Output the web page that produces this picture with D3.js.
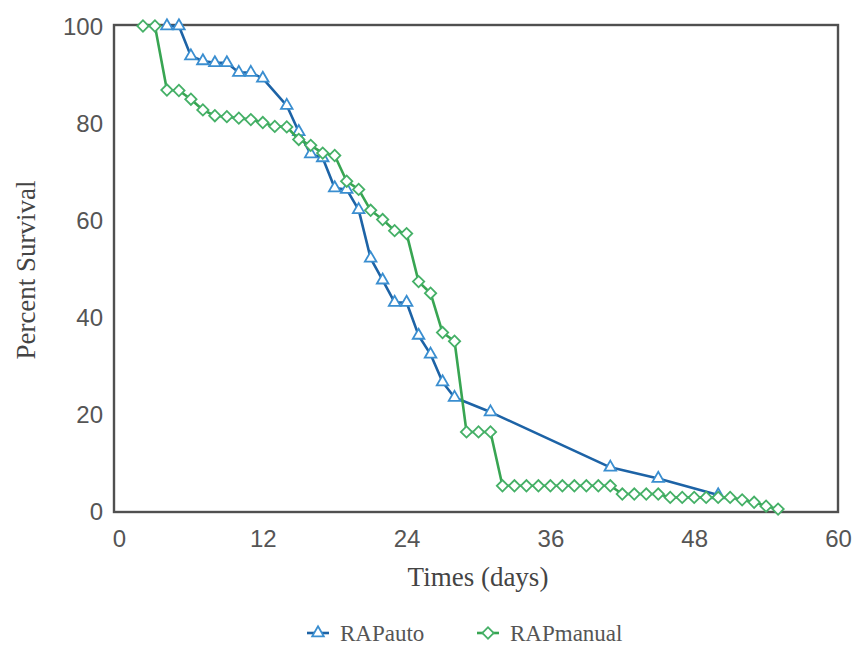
<!DOCTYPE html>
<html>
<head>
<meta charset="utf-8">
<script src="https://cdn.jsdelivr.net/npm/d3@7"></script>
<style>
  html, body { margin: 0; padding: 0; background: #ffffff; }
  svg { display: block; }
</style>
</head>
<body>
<svg id="chart" width="853" height="648"></svg>
<script>
// Kaplan–Meier style survival curves for the two RAP groups
const autoDays = [4, 5, 6, 7, 8, 9, 10, 11, 12, 14, 15, 16, 17, 18, 19, 20, 21, 22, 23, 24, 25, 26, 27, 28, 31, 41, 45, 50];
const autoSurvival = [100, 100, 93.8, 92.8, 92.4, 92.4, 90.4, 90.4, 89.2, 83.6, 78.2, 73.6, 72.8, 66.6, 66.3, 62.1, 52.1, 47.6, 43.0, 43.0, 36.2, 32.3, 26.6, 23.4, 20.4, 9.0, 6.7, 3.3];

const manualDays = [2, 3, 4, 5, 6, 7, 8, 9, 10, 11, 12, 13, 14, 15, 16, 17, 18, 19, 20, 21, 22, 23, 24, 25, 26, 27, 28, 29, 30, 31,
  32, 33, 34, 35, 36, 37, 38, 39, 40, 41, 42, 43, 44, 45, 46, 47, 48, 49, 50, 51, 52, 53, 54, 55];
const manualSurvival = [100, 100, 86.8, 86.7, 84.9, 82.7, 81.5, 81.3, 81.0, 80.7, 80.1, 79.3, 79.2, 76.6, 75.4, 73.8, 73.3, 68.0, 66.3, 62.0,
  60.1, 57.8, 57.2, 47.3, 44.9, 36.8, 35.0, 16.3, 16.3, 16.3,
  5.2, 5.2, 5.2, 5.2, 5.2, 5.2, 5.2, 5.2, 5.2, 5.2, 3.5, 3.5, 3.5, 3.5, 2.8, 2.8, 2.8, 2.8, 2.8, 2.8, 2.3, 1.8, 1.0, 0.4];

const seriesNames = ["RAPauto", "RAPmanual"];
const xTicks = [0, 12, 24, 36, 48, 60];
const yTicks = [0, 20, 40, 60, 80, 100];

const svg = d3.select("#chart");

const frame = { left: 114, right: 838, top: 25, bottom: 512 };
const x = d3.scaleLinear().domain([0, 60]).range([119, 838]);
const y = d3.scaleLinear().domain([0, 100]).range([511, 26]);

// square diamonds are drawn as a square symbol turned by 45 degrees
const styles = {
  RAPauto:   { line: "#1d63a6", marker: "#3a8ed0", shape: d3.symbolTriangle, size: 58, rot: 0 },
  RAPmanual: { line: "#38a552", marker: "#45b067", shape: d3.symbolSquare,   size: 64, rot: 45 }
};

// plot frame
svg.append("rect")
  .attr("x", frame.left).attr("y", frame.top)
  .attr("width", frame.right - frame.left).attr("height", frame.bottom - frame.top)
  .attr("fill", "none").attr("stroke", "#505050").attr("stroke-width", 2.4);

// axes (labels only, no tick marks)
const xAxis = d3.axisBottom(x).tickValues(xTicks).tickSize(0).tickPadding(0);
const gx = svg.append("g").attr("transform", `translate(0,${frame.bottom})`).call(xAxis);
gx.select(".domain").remove();
gx.selectAll("text")
  .attr("y", 35).attr("dy", null)
  .attr("font-family", "Liberation Sans, Arial, sans-serif")
  .attr("font-size", 24).attr("fill", "#555");

const yAxis = d3.axisLeft(y).tickValues(yTicks).tickSize(0).tickPadding(0);
const gy = svg.append("g").attr("transform", `translate(${frame.left},0)`).call(yAxis);
gy.select(".domain").remove();
gy.selectAll("text")
  .attr("x", -11).attr("dy", "0.36em")
  .attr("font-family", "Liberation Sans, Arial, sans-serif")
  .attr("font-size", 24).attr("fill", "#555");

// axis titles
svg.append("text")
  .attr("transform", "translate(35,270) rotate(-90)")
  .attr("text-anchor", "middle")
  .attr("font-family", "Liberation Serif, Times New Roman, serif")
  .attr("font-size", 27).attr("fill", "#444")
  .text("Percent Survival");

svg.append("text")
  .attr("x", 478).attr("y", 586)
  .attr("text-anchor", "middle")
  .attr("font-family", "Liberation Serif, Times New Roman, serif")
  .attr("font-size", 27).attr("fill", "#444")
  .text("Times (days)");

// series
const series = [
  { name: seriesNames[0], pts: autoDays.map((d, i) => [d, autoSurvival[i]]) },
  { name: seriesNames[1], pts: manualDays.map((d, i) => [d, manualSurvival[i]]) }
];

const line = d3.line().x(d => x(d[0])).y(d => y(d[1]));

series.forEach(s => {
  const st = styles[s.name];
  const g = svg.append("g");
  g.append("path")
    .datum(s.pts)
    .attr("d", line)
    .attr("fill", "none")
    .attr("stroke", st.line)
    .attr("stroke-width", 2.6)
    .attr("stroke-linejoin", "round");
  g.selectAll("path.marker")
    .data(s.pts)
    .join("path")
    .attr("class", "marker")
    .attr("transform", d => `translate(${x(d[0])},${y(d[1])}) rotate(${st.rot})`)
    .attr("d", d3.symbol().type(st.shape).size(st.size))
    .attr("fill", "#fff")
    .attr("stroke", st.marker)
    .attr("stroke-width", 1.8);
});

// legend
const legendItems = [
  { name: seriesNames[0], x0: 307 },
  { name: seriesNames[1], x0: 477 }
];
const lg = svg.append("g");
legendItems.forEach(it => {
  const st = styles[it.name];
  lg.append("line")
    .attr("x1", it.x0).attr("x2", it.x0 + 22)
    .attr("y1", 633).attr("y2", 633)
    .attr("stroke", st.line).attr("stroke-width", 2.6);
  lg.append("path")
    .attr("transform", `translate(${it.x0 + 11},633) rotate(${st.rot})`)
    .attr("d", d3.symbol().type(st.shape).size(st.size))
    .attr("fill", "#fff").attr("stroke", st.marker).attr("stroke-width", 1.8);
  lg.append("text")
    .attr("x", it.x0 + 33).attr("y", 641)
    .attr("font-family", "Liberation Serif, Times New Roman, serif")
    .attr("font-size", 23).attr("fill", "#555")
    .text(it.name);
});
</script>
</body>
</html>
